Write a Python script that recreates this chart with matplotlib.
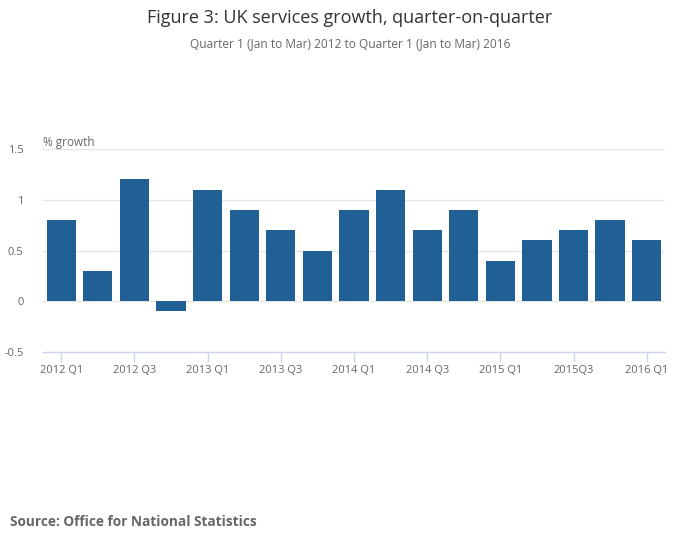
import matplotlib
matplotlib.use("Agg")
import matplotlib.pyplot as plt

plt.rcParams['font.family'] = ['Open Sans', 'DejaVu Sans']

# Data
quarters = ['2012 Q1', '2012 Q2', '2012 Q3', '2012 Q4',
            '2013 Q1', '2013 Q2', '2013 Q3', '2013 Q4',
            '2014 Q1', '2014 Q2', '2014 Q3', '2014 Q4',
            '2015 Q1', '2015 Q2', '2015Q3', '2015 Q4',
            '2016 Q1']
growth = [0.8, 0.3, 1.2, -0.1, 1.1, 0.9, 0.7, 0.5, 0.9, 1.1, 0.7, 0.9,
          0.4, 0.6, 0.7, 0.8, 0.6]
y_ticks = [-0.5, 0, 0.5, 1, 1.5]
y_labels = ['-0.5', '0', '0.5', '1', '1.5']

fig = plt.figure(figsize=(7, 5.49), dpi=100)
ax = fig.add_axes([0.0614, 0.3588, 0.8886, 0.3698])

x = list(range(len(quarters)))
ax.bar(x, growth, width=0.8, color='#206095', zorder=3)

ax.set_xlim(-0.5, len(quarters) - 0.5)
ax.set_ylim(-0.5, 1.5)
ax.set_yticks(y_ticks)
ax.set_yticklabels(y_labels)
ax.set_xticks(x[::2])
ax.set_xticklabels(quarters[::2])

for v in y_ticks[1:]:
    ax.axhline(v, color='#e6e6e6', lw=1, zorder=1)

for s in ['top', 'right', 'left']:
    ax.spines[s].set_visible(False)
ax.spines['bottom'].set_color('#ccd6eb')
ax.spines['bottom'].set_linewidth(1)

ax.tick_params(axis='y', length=0, pad=14, labelsize=8, labelcolor='#666666')
ax.tick_params(axis='x', length=7, width=1, color='#ccd6eb', pad=2,
               labelsize=8, labelcolor='#666666')

ax.text(0.0, 1.0, '% growth', transform=ax.transAxes, fontsize=8.5,
        color='#666666', ha='left', va='bottom')

fig.text(0.5, 0.967, 'Figure 3: UK services growth, quarter-on-quarter',
         ha='center', va='center', fontsize=13, color='#333333')
fig.text(0.5, 0.92, 'Quarter 1 (Jan to Mar) 2012 to Quarter 1 (Jan to Mar) 2016',
         ha='center', va='center', fontsize=8.6, color='#666666')
fig.text(0.014, 0.05, 'Source: Office for National Statistics',
         ha='left', va='center', fontsize=9.8, fontweight='bold', color='#666666')

fig.savefig('out.png', dpi=100)
